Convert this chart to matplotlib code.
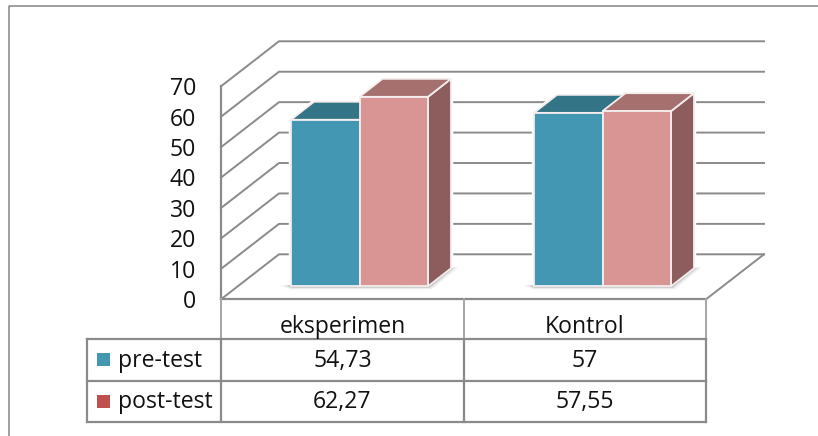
import matplotlib
matplotlib.use("Agg")
import matplotlib.pyplot as plt
from matplotlib.patches import Polygon, Rectangle

categories = ["eksperimen", "Kontrol"]
series_names = ["pre-test", "post-test"]
pre_test = [54.73, 57]
post_test = [62.27, 57.55]
y_ticks = [0, 10, 20, 30, 40, 50, 60, 70]

plt.rcParams["font.family"] = ["Open Sans", "DejaVu Sans"]

W, H = 818, 436
UNIT = 3.043      # pixels per value unit
Y0 = 299.3        # pixel row of value 0 on the front wall edge

fig = plt.figure(figsize=(W / 100, H / 100), dpi=100, facecolor="white")
ax = fig.add_axes([0, 0, 1, 1])
ax.set_xlim(0, W)
ax.set_ylim((Y0 - H) / UNIT, Y0 / UNIT)
ax.axis("off")


def dy(px):
    """Vertical distance in pixels expressed in value units (up is positive)."""
    return px / UNIT


def row(py):
    """Pixel row expressed in value units."""
    return (Y0 - py) / UNIT


GRID = "#8a8a8a"
TEXT = "#111111"
BLUE = ("#4397b2", "#337586")
PINK = ("#d99594", "#a5706e", "#8c5d5c")
BLUE_SIDE = "#2f6a7a"
LEGEND = ["#4297b1", "#c0504d"]
FS = 16.6

# outer chart frame
ax.plot([9, 9, W], [row(H), row(6.5), row(6.5)], color="#858585", lw=1.1, zorder=1)

# walls and floor of the 3D box
WALL_DX, WALL_DY = 58, 45
LEFT, RIGHT = 221, 706
for t in y_ticks:
    ax.plot([LEFT, LEFT + WALL_DX, RIGHT + WALL_DX],
            [t, t + dy(WALL_DY), t + dy(WALL_DY)],
            color=GRID, lw=1.4, zorder=2, solid_joinstyle="miter")
ax.plot([LEFT, LEFT], [0, y_ticks[-1]], color=GRID, lw=1.6, zorder=2)
ax.plot([RIGHT, RIGHT + WALL_DX], [0, dy(WALL_DY)], color=GRID, lw=1.4, zorder=2)

# bars with a small depth offset
BAR_W = 68.5
DEPTH_X, DEPTH_Y = 23, 18
BASE = dy(13.0)
group_left = [291, 534]


def shadow(x0, x1):
    """Soft ground shadow along the bar base and the receding side."""
    for grow, alpha in [(8, 0.05), (6, 0.08), (4, 0.12), (2.5, 0.18), (1.2, 0.22)]:
        ax.add_patch(Polygon(
            [(x0 - grow * 1.5, BASE + dy(1)),
             (x0, BASE - dy(grow * 0.4)),
             (x1 + grow * 0.5, BASE - dy(grow * 0.4)),
             (x1 + DEPTH_X + grow, BASE + dy(DEPTH_Y + 1)),
             (x1 + DEPTH_X, BASE + dy(DEPTH_Y)),
             (x1, BASE)],
            closed=True, fc="#4d4d4d", ec="none", alpha=alpha, zorder=4))


def draw_bar(x, value, front, top, side):
    h = BASE + value
    faces = [
        ([(x + BAR_W, BASE), (x + BAR_W + DEPTH_X, BASE + dy(DEPTH_Y)),
          (x + BAR_W + DEPTH_X, h + dy(DEPTH_Y)), (x + BAR_W, h)], side),
        ([(x, h), (x + DEPTH_X, h + dy(DEPTH_Y)),
          (x + BAR_W + DEPTH_X, h + dy(DEPTH_Y)), (x + BAR_W, h)], top),
        ([(x, BASE), (x, h), (x + BAR_W, h), (x + BAR_W, BASE)], front),
    ]
    # white halo keeps the wall gridlines clear of the bar
    for pts, _ in faces:
        ax.add_patch(Polygon(pts, closed=True, fc="white", ec="white", lw=3.2,
                             joinstyle="round", zorder=3))
    return faces


for i, gx in enumerate(group_left):
    shadow(gx, gx + 2 * BAR_W)

for i, gx in enumerate(group_left):
    blue_faces = draw_bar(gx, pre_test[i], BLUE[0], BLUE[1], BLUE_SIDE)
    pink_faces = draw_bar(gx + BAR_W, post_test[i], PINK[0], PINK[1], PINK[2])
    for pts, col in blue_faces + pink_faces:
        ax.add_patch(Polygon(pts, closed=True, fc=col, ec="#f4eeee", lw=1.3,
                             joinstyle="miter", zorder=5))

# value axis labels
for t in y_ticks:
    ax.text(196, t - dy(8.8), str(t), ha="right", va="baseline", fontsize=FS, color=TEXT, zorder=6)

# data table underneath the plot
ROWS = [299.3, 339.5, 381, 422]
COLS = [221, 463.5, 706]
TABLE_LEFT = 87
ax.plot([COLS[0], COLS[2]], [row(ROWS[0]), row(ROWS[0])], color=GRID, lw=1.6, zorder=2)
for py in ROWS[1:]:
    ax.plot([TABLE_LEFT, COLS[2]], [row(py), row(py)], color=GRID, lw=1.6, zorder=2)
for px in COLS:
    ax.plot([px, px], [row(ROWS[0]), row(ROWS[1])], color="#a6a6a6", lw=1.4, zorder=2)
    ax.plot([px, px], [row(ROWS[1]), row(ROWS[3])], color=GRID, lw=1.6, zorder=2)
ax.plot([TABLE_LEFT, TABLE_LEFT], [row(ROWS[1]), row(ROWS[3])], color=GRID, lw=1.6, zorder=2)

centers = [342.5, 585]
for cx, name in zip(centers, categories):
    ax.text(cx, row(332.7), name, ha="center", va="baseline", fontsize=FS, color=TEXT, zorder=6)

baselines = [366.7, 408]
for r, (name, vals, col) in enumerate(zip(series_names, [pre_test, post_test], LEGEND)):
    base_px = baselines[r]
    ax.add_patch(Rectangle((97, row(base_px - 0.5)), 13, dy(13), fc=col, ec="none", zorder=6))
    ax.text(118, row(base_px), name, ha="left", va="baseline", fontsize=FS, color=TEXT, zorder=6)
    for cx, v in zip(centers, vals):
        ax.text(cx, row(base_px), str(v).replace(".", ","), ha="center", va="baseline",
                fontsize=FS, color=TEXT, zorder=6)

fig.savefig("out.png", dpi=100, facecolor="white")
